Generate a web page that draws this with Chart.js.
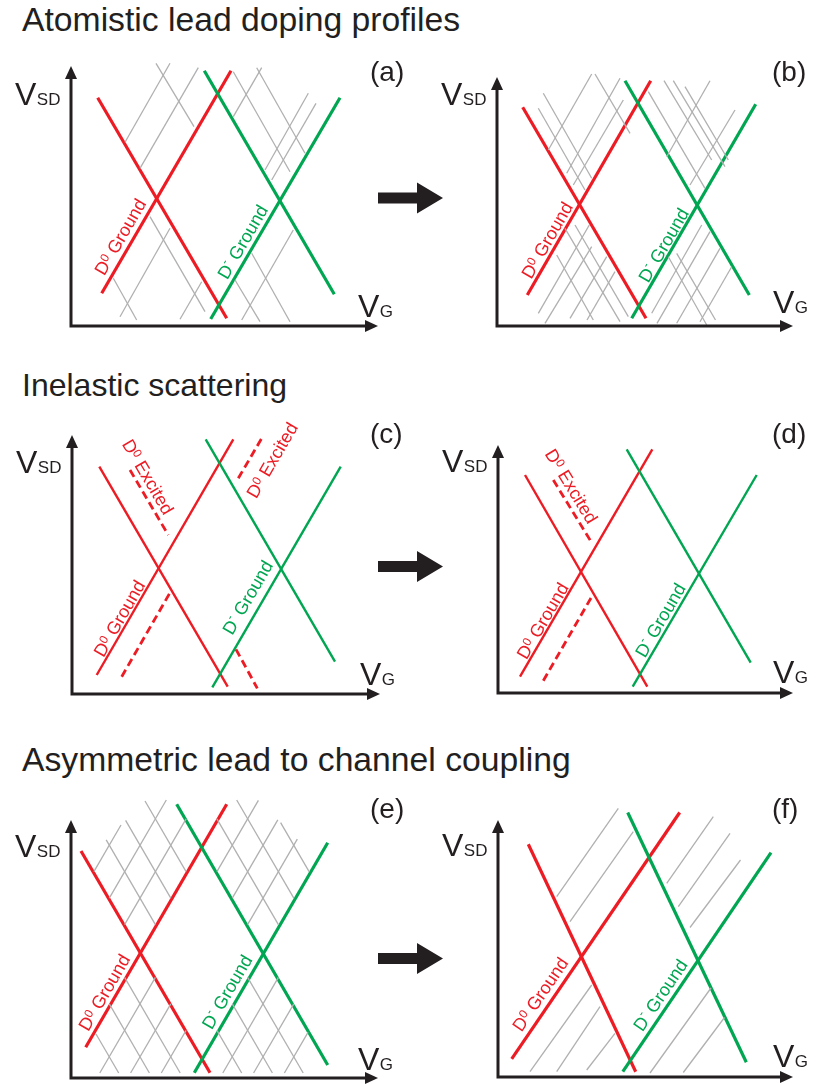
<!DOCTYPE html>
<html>
<head>
<meta charset="utf-8">
<script src="https://cdn.jsdelivr.net/npm/chart.js@4/dist/chart.umd.min.js"></script>
<style>
  html, body { margin: 0; padding: 0; background: #ffffff; }
  body { width: 817px; height: 1084px; position: relative; overflow: hidden;
         font-family: "Liberation Sans", Arial, sans-serif; }
  .title { position: absolute; left: 22px; line-height: 1; color: #231f20; white-space: nowrap; }
  canvas { position: absolute; }
  svg { position: absolute; left: 0; top: 0; pointer-events: none; }
</style>
</head>
<body>
<div class="title" style="top:2.5px;font-size:33.7px"></div>
<div class="title" style="top:369px;font-size:32px"></div>
<div class="title" style="top:742.5px;font-size:33.7px"></div>

<script>
// Segments are [V_G start, V_SD start, V_G end, V_SD end] in arbitrary units.

// (a) atomistic lead doping, before
const A_RED   = [[2.67, 22.83, 15.57, 0.77], [3.07, 3.27, 16.00, 25.53]];
const A_GREEN = [[13.33, 25.53, 26.33, 3.17], [13.97, 0.70, 26.90, 22.83]];
const A_GRAY  = [
  [8.50, 26.27, 12.30, 19.93], [9.90, 26.27, 5.40, 18.37], [12.73, 25.83, 6.90, 15.77],
  [16.23, 25.43, 21.90, 15.43], [18.57, 25.83, 23.40, 17.27], [19.07, 25.83, 16.23, 20.93],
  [23.73, 23.27, 19.40, 15.60], [24.50, 22.27, 20.07, 14.60], [7.90, 10.93, 13.40, 1.43],
  [9.90, 9.77, 4.90, 0.93], [4.23, 4.77, 6.57, 0.60], [13.07, 4.43, 10.90, 0.67],
  [18.07, 7.27, 21.90, 0.43], [22.23, 9.60, 17.07, 0.60], [16.40, 4.60, 18.90, 0.43]
];

// (b) atomistic lead doping, after
const B_RED   = [[2.57, 21.87, 14.90, 0.77], [3.03, 3.10, 15.37, 24.53]];
const B_GREEN = [[12.80, 24.53, 25.23, 3.10], [13.47, 0.77, 25.87, 22.17]];
const B_GRAY  = [
  [9.47, 25.20, 5.13, 17.60], [9.80, 25.20, 13.30, 19.27], [12.30, 24.77, 6.97, 15.27],
  [12.63, 22.60, 7.63, 14.10], [4.63, 23.27, 9.47, 14.77], [4.13, 21.77, 8.80, 13.60],
  [16.70, 24.53, 21.47, 16.60], [17.63, 24.53, 22.80, 15.93], [18.80, 23.93, 23.13, 16.60],
  [21.30, 24.53, 16.97, 16.93], [23.80, 21.60, 19.30, 14.10], [15.13, 23.43, 20.80, 13.77],
  [9.23, 10.10, 4.13, 1.27], [9.47, 7.93, 4.80, 0.27], [10.97, 6.93, 7.30, 0.77],
  [11.80, 5.43, 9.00, 0.60], [6.80, 9.77, 12.30, 0.43], [7.80, 10.10, 13.13, 0.93],
  [5.97, 7.10, 9.63, 0.60], [20.47, 10.10, 15.47, 1.27], [21.30, 9.43, 16.00, 0.27],
  [22.30, 7.77, 17.97, 0.27], [23.47, 5.93, 20.30, 0.43], [17.13, 6.93, 20.97, 0.10],
  [17.97, 7.27, 21.85, 0.60]
];

// (c) inelastic scattering, before
const C_RED   = [[2.73, 22.73, 15.57, 0.73], [2.47, 1.90, 16.13, 25.47]];
const C_GREEN = [[13.37, 25.47, 26.30, 3.23], [14.03, 0.67, 26.87, 22.73]];
const C_DASH  = [[5.80, 22.40, 9.63, 15.90], [4.97, 1.73, 9.80, 10.13],
                 [16.63, 21.57, 18.97, 25.57], [16.40, 4.47, 18.53, 0.57]];

// (d) inelastic scattering, after
const D_RED   = [[2.70, 21.80, 14.93, 0.63], [2.20, 1.63, 15.43, 24.37]];
const D_GREEN = [[12.87, 24.37, 25.27, 3.03], [13.47, 0.63, 25.87, 21.80]];
const D_DASH  = [[5.53, 21.30, 9.37, 15.03], [4.53, 1.23, 9.47, 9.80]];

// (e) symmetric lead coupling
const E_RED   = [[1.00, 22.70, 13.90, 0.53], [1.47, 3.07, 15.57, 27.37]];
const E_GREEN = [[10.57, 27.37, 25.67, 1.30], [12.33, 0.53, 25.67, 23.53]];
const E_GRAY  = [
  [2.29, 20.63, 5.00, 25.30], [3.83, 17.99, 9.53, 27.80], [5.36, 15.34, 11.51, 25.92],
  [14.59, 20.63, 18.74, 27.77], [2.88, 0.50, 8.44, 10.06], [16.13, 17.99, 20.68, 25.82],
  [5.96, 0.50, 9.98, 7.41], [17.66, 15.34, 22.63, 23.88], [9.03, 0.50, 11.51, 4.77],
  [15.18, 0.50, 20.74, 10.06], [18.26, 0.50, 22.28, 7.41], [21.34, 0.50, 23.70, 4.57],
  [2.50, 4.40, 4.77, 0.50], [3.83, 7.41, 7.84, 0.50], [5.36, 10.06, 10.92, 0.50],
  [3.52, 23.81, 8.44, 15.34], [14.59, 4.77, 17.07, 0.50], [5.46, 25.76, 9.98, 17.99],
  [16.13, 7.41, 20.14, 0.50], [7.40, 27.70, 11.51, 20.63], [17.66, 10.06, 23.22, 0.50],
  [14.59, 25.92, 20.74, 15.34], [16.57, 27.80, 22.28, 17.99], [20.96, 25.54, 23.81, 20.63]
];

// (f) asymmetric lead coupling
const F_RED   = [[3.03, 23.27, 13.77, 0.53], [1.37, 1.82, 18.17, 26.45]];
const F_GREEN = [[12.97, 26.45, 24.83, 1.48], [12.48, 0.53, 27.30, 22.43]];
const F_GRAY  = [
  [5.87, 18.03, 12.03, 26.87], [7.20, 15.53, 13.53, 24.53], [16.87, 19.37, 21.53, 26.03],
  [18.03, 17.03, 23.20, 24.37], [19.20, 14.95, 24.25, 21.70], [3.20, 0.53, 9.37, 9.20],
  [5.87, 0.53, 10.20, 7.03], [8.87, 0.70, 11.70, 4.37], [15.20, 0.40, 21.30, 8.90],
  [18.53, 0.45, 22.65, 5.95]
];

const SECTION_TITLES = ['Atomistic lead doping profiles', 'Inelastic scattering', 'Asymmetric lead to channel coupling'];

const INK = '#231f20';
const RED = '#ed1c24';
const GREEN = '#00a651';
const GRAY = '#b0b0b0';
const FONT = '"Liberation Sans", Arial, sans-serif';

const G0 = { pre: 'D', sup: '0', post: ' Ground' };
const GM = { pre: 'D', sup: '-', post: ' Ground' };
const EX = { pre: 'D', sup: '0', post: ' Excited' };

const PANELS = [
  { tag: '(a)', left: 0, top: 40, w: 410, h: 300, pad: { left: 71, top: 26, right: 32, bottom: 14 },
    xMax: 30.7, yMax: 26.0, lw: 3.2, red: A_RED, green: A_GREEN, gray: A_GRAY, dash: [],
    tagPos: [370, 41], vgLift: 9,
    labels: [ { t: G0, x: 4.9, y: 8.93, along: A_RED[1], c: RED }, { t: GM, x: 17.13, y: 8.43, along: A_GREEN[1], c: GREEN } ] },
  { tag: '(b)', left: 410, top: 40, w: 407, h: 300, pad: { left: 87, top: 37, right: 24, bottom: 14 },
    xMax: 29.6, yMax: 24.9, lw: 3.2, red: B_RED, green: B_GREEN, gray: B_GRAY, dash: [],
    tagPos: [362, 41], vgLift: 13,
    labels: [ { t: G0, x: 4.97, y: 8.6, along: B_RED[1], c: RED }, { t: GM, x: 16.63, y: 8.1, along: B_GREEN[1], c: GREEN } ] },
  { tag: '(c)', left: 0, top: 405, w: 410, h: 300, pad: { left: 72, top: 30, right: 30, bottom: 11 },
    xMax: 30.8, yMax: 25.9, lw: 2.4, red: C_RED, green: C_GREEN, gray: [], dash: C_DASH,
    tagPos: [370, 37.5], vgLift: 9,
    labels: [ { t: G0, x: 4.7, y: 7.57, along: C_RED[1], c: RED }, { t: GM, x: 17.53, y: 9.67, along: C_GREEN[1], c: GREEN },
              { t: EX, x: 7.63, y: 21.73, along: C_DASH[0], c: RED }, { t: EX, x: 19.97, y: 23.4, along: C_DASH[2], c: RED } ] },
  { tag: '(d)', left: 410, top: 405, w: 407, h: 300, pad: { left: 88, top: 40, right: 24, bottom: 12 },
    xMax: 29.5, yMax: 24.8, lw: 2.4, red: D_RED, green: D_GREEN, gray: [], dash: D_DASH,
    tagPos: [362, 37.5], vgLift: 10,
    labels: [ { t: EX, x: 7.37, y: 20.7, along: D_DASH[0], c: RED }, { t: G0, x: 4.43, y: 7.23, along: D_RED[1], c: RED },
              { t: GM, x: 16.2, y: 7.3, along: D_GREEN[1], c: GREEN } ] },
  { tag: '(e)', left: 0, top: 780, w: 410, h: 304, pad: { left: 71, top: 40, right: 32, bottom: 6 },
    xMax: 30.7, yMax: 25.8, lw: 3.2, red: E_RED, green: E_GREEN, gray: E_GRAY, dash: [],
    tagPos: [370, 37.5], vgLift: 8,
    labels: [ { t: G0, x: 3.3, y: 8.57, along: E_RED[1], c: RED }, { t: GM, x: 15.57, y: 8.63, along: E_GREEN[1], c: GREEN } ] },
  { tag: '(f)', left: 410, top: 780, w: 407, h: 304, pad: { left: 88, top: 40, right: 24, bottom: 7 },
    xMax: 29.5, yMax: 25.7, lw: 3.2, red: F_RED, green: F_GREEN, gray: F_GRAY, dash: [],
    tagPos: [362, 37.5], vgLift: 10,
    labels: [ { t: G0, x: 4.2, y: 8.3, along: F_RED[1], c: RED }, { t: GM, x: 16.2, y: 8.2, along: F_GREEN[1], c: GREEN } ] }
];

// vertical centres of the block arrows between the left and right panels
const STEP_ARROWS = [198, 566.5, 958.5];

function segment(s, color, width, dash) {
  return {
    data: [{ x: s[0], y: s[1] }, { x: s[2], y: s[3] }],
    borderColor: color, borderWidth: width, borderDash: dash || [],
    borderCapStyle: 'butt', showLine: true, pointRadius: 0, pointHoverRadius: 0,
    fill: false, tension: 0, clip: false
  };
}

function drawLineLabel(ctx, lab, px, py, ang) {
  const big = '18px ' + FONT, small = '12px ' + FONT;
  const rise = lab.t.sup === '-' ? 8 : 5;
  ctx.save();
  ctx.translate(px, py);
  ctx.rotate(ang);
  ctx.fillStyle = lab.c;
  ctx.textBaseline = 'alphabetic';
  ctx.font = big;
  const w1 = ctx.measureText(lab.t.pre).width;
  const w3 = ctx.measureText(lab.t.post).width;
  ctx.font = small;
  const w2 = ctx.measureText(lab.t.sup).width;
  let cx = -(w1 + w2 + w3) / 2;
  const base = 6.5;
  ctx.font = big;  ctx.fillText(lab.t.pre, cx, base); cx += w1;
  ctx.font = small; ctx.fillText(lab.t.sup, cx, base - rise); cx += w2;
  ctx.font = big;  ctx.fillText(lab.t.post, cx, base);
  ctx.restore();
}

function makeDecor(p) {
  return {
    id: 'diagramDecor',
    afterDatasetsDraw(chart) {
      const { ctx, chartArea: ca, scales } = chart;
      const xs = scales.x, ys = scales.y;
      const ox = ca.left, oy = ca.bottom, xt = ca.right, yt = ca.top;
      ctx.save();

      // labels running along the transition lines
      p.labels.forEach(l => {
        const s = l.along;
        let x1 = xs.getPixelForValue(s[0]), y1 = ys.getPixelForValue(s[1]);
        let x2 = xs.getPixelForValue(s[2]), y2 = ys.getPixelForValue(s[3]);
        if (x2 < x1) { [x1, x2] = [x2, x1]; [y1, y2] = [y2, y1]; }
        const ang = Math.atan2(y2 - y1, x2 - x1);
        drawLineLabel(ctx, l, xs.getPixelForValue(l.x), ys.getPixelForValue(l.y), ang);
      });

      // axes with arrow heads
      ctx.strokeStyle = INK;
      ctx.fillStyle = INK;
      ctx.lineWidth = 3;
      ctx.lineJoin = 'miter';
      ctx.beginPath();
      ctx.moveTo(ox, yt + 10);
      ctx.lineTo(ox, oy);
      ctx.lineTo(xt - 10, oy);
      ctx.stroke();
      ctx.beginPath();
      ctx.moveTo(ox, yt); ctx.lineTo(ox - 6, yt + 13); ctx.lineTo(ox + 6, yt + 13); ctx.closePath(); ctx.fill();
      ctx.beginPath();
      ctx.moveTo(xt, oy); ctx.lineTo(xt - 13, oy - 6); ctx.lineTo(xt - 13, oy + 6); ctx.closePath(); ctx.fill();

      // axis names
      ctx.textBaseline = 'alphabetic';
      ctx.textAlign = 'left';
      ctx.font = '32px ' + FONT;
      const vw = ctx.measureText('V').width;
      ctx.fillText('V', ox - 56, oy - 221);
      ctx.fillText('V', xt - 20, oy - p.vgLift);
      ctx.font = '17px ' + FONT;
      ctx.fillText('SD', ox - 56 + vw + 0.5, oy - 221);
      ctx.fillText('G', xt - 20 + vw + 0.5, oy - p.vgLift);

      // panel tag
      ctx.font = '28px ' + FONT;
      ctx.fillText(p.tag, p.tagPos[0], p.tagPos[1]);
      ctx.restore();
    }
  };
}

PANELS.forEach(p => {
  const cv = document.createElement('canvas');
  cv.width = p.w; cv.height = p.h;
  cv.style.left = p.left + 'px'; cv.style.top = p.top + 'px';
  cv.style.width = p.w + 'px'; cv.style.height = p.h + 'px';
  document.body.appendChild(cv);

  const datasets = [];
  p.gray.forEach(s => datasets.push(segment(s, GRAY, 1.3)));
  p.dash.forEach(s => datasets.push(segment(s, RED, 2.8, [8, 4.5])));
  p.green.forEach(s => datasets.push(segment(s, GREEN, p.lw)));
  p.red.forEach(s => datasets.push(segment(s, RED, p.lw)));

  new Chart(cv, {
    type: 'scatter',
    data: { datasets },
    options: {
      responsive: false, animation: false, devicePixelRatio: 1, events: [],
      layout: { padding: p.pad },
      plugins: { legend: { display: false }, tooltip: { enabled: false }, title: { display: false } },
      scales: {
        x: { type: 'linear', display: false, min: 0, max: p.xMax },
        y: { type: 'linear', display: false, min: 0, max: p.yMax }
      }
    },
    plugins: [makeDecor(p)]
  });
});

// block arrows pointing from each left panel to its right neighbour
(function () {
  const ns = 'http://www.w3.org/2000/svg';
  const svg = document.createElementNS(ns, 'svg');
  svg.setAttribute('width', '817'); svg.setAttribute('height', '1084');
  STEP_ARROWS.forEach(c => {
    const poly = document.createElementNS(ns, 'polygon');
    const pts = [[378, c - 5.5], [417, c - 5.5], [417, c - 15.5], [443, c], [417, c + 15.5], [417, c + 5.5], [378, c + 5.5]];
    poly.setAttribute('points', pts.map(q => q.join(',')).join(' '));
    poly.setAttribute('fill', INK);
    svg.appendChild(poly);
  });
  document.body.appendChild(svg);
})();

// section headings
document.querySelectorAll('.title').forEach((el, i) => { el.textContent = SECTION_TITLES[i]; });
</script>
</body>
</html>
